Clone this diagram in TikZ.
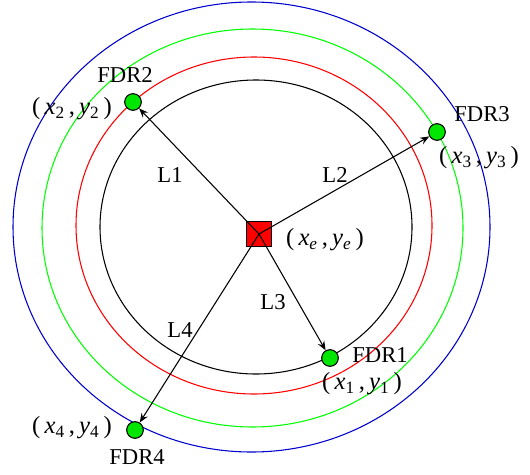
\documentclass[tikz,border=0pt]{standalone}
\usepackage{fontspec}
\setmainfont{Liberation Serif}
\usetikzlibrary{arrows.meta}
\definecolor{ringblue}{HTML}{0000CC}
\definecolor{ringgreen}{HTML}{00FF00}
\definecolor{dotgreen}{HTML}{00E600}
\newcommand{\posxy}[1]{(\,\textit{x}\textsubscript{#1}\,,\,\textit{y}\textsubscript{#1}\,)}

\begin{document}
\begin{tikzpicture}[x=0.75pt, y=-0.75pt, >={Stealth[length=7pt,width=5.5pt,inset=2.5pt]}, every node/.style={font=\fontsize{17}{20}\selectfont}, ring/.style={line width=0.8pt}, fdr/.style={circle,draw=black,fill=dotgreen,line width=0.8pt,minimum size=12.5pt,inner sep=0pt}, src/.style={draw=black,fill=red,minimum size=18.5pt,inner sep=0pt,line width=0.8pt}, line/.style={->,line width=0.8pt}, coordlbl/.style={font=\fontsize{18.5}{21}\selectfont}]
\useasboundingbox (0,0) rectangle (530,474);
% coverage rings
\draw[ring,ringblue] (251.5,227) ellipse [x radius=238.5,y radius=225];
\draw[ring,ringgreen] (252.5,228) ellipse [x radius=210.5,y radius=199];
\draw[ring,red] (254,225.5) ellipse [x radius=178,y radius=168.5];
\draw[ring,black] (256,227) ellipse [x radius=156,y radius=147];
% emitter and receivers
\node[src] (src) at (259,234) {};
\node[fdr] (fdr1) at (330,358) {};
\node[fdr] (fdr2) at (133,102) {};
\node[fdr] (fdr3) at (437,132) {};
\node[fdr] (fdr4) at (135,430) {};
\draw[line] (src.center) -- (fdr1);
\draw[line] (src.center) -- (fdr2);
\draw[line] (src.center) -- (fdr3);
\draw[line] (src.center) -- (fdr4);
% labels
\node (n1) at (380,355) {FDR1};
\node (n2) at (125,75) {FDR2};
\node (n3) at (482,114) {FDR3};
\node (n4) at (137,457) {FDR4};
\node[coordlbl] (p1) at (362,384) {\posxy{1}};
\node[coordlbl] (p2) at (72,109) {\posxy{2}};
\node[coordlbl] (p3) at (479,158) {\posxy{3}};
\node[coordlbl] (p4) at (72,428) {\posxy{4}};
\node[coordlbl] (pe) at (325,240) {\posxy{\textit{e}}};
\node (l1) at (170,175) {L1};
\node (l2) at (335,175) {L2};
\node (l3) at (273,302) {L3};
\node (l4) at (180,330) {L4};
\end{tikzpicture}
\end{document}
